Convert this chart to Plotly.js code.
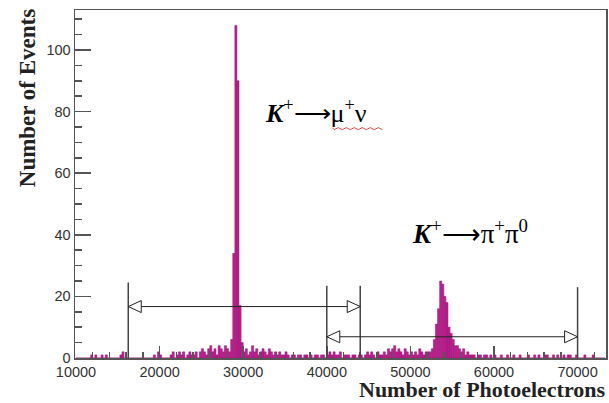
<!DOCTYPE html>
<html>
<head>
<meta charset="utf-8">
<script src="https://cdn.plot.ly/plotly-3.0.1.min.js"></script>
<style>html,body{margin:0;padding:0;background:#fff;}#chart{width:609px;height:403px;}</style>
</head>
<body>
<div id="chart"></div>
<script>
// Histogram definition (bins of 250 photoelectrons starting at 10000)
var binStart = 10000;
var binWidth = 250;
var counts = [
  0,0,0,0,0,0,0,1,0,1,
  0,0,1,0,1,0,0,0,0,0,
  0,1,2,0,0,0,0,0,0,0,
  0,0,0,0,0,0,0,1,0,2,
  1,0,0,0,0,1,2,0,1,2,
  1,2,0,1,2,1,1,2,0,2,
  3,2,1,3,4,2,3,1,4,3,
  2,4,3,2,6,34,108,90,17,5,
  2,3,1,2,4,2,3,1,2,3,
  2,1,3,2,1,2,1,2,1,1,
  2,1,0,1,1,0,1,1,0,1,
  1,0,1,0,1,1,0,1,1,0,
  1,2,1,2,1,1,2,0,1,1,
  1,0,1,1,0,1,1,0,1,2,
  1,2,1,0,2,1,1,2,1,3,
  2,3,4,2,3,2,1,3,2,1,
  2,1,2,1,3,2,1,2,2,2,
  3,6,11,16,25,24,20,18,10,8,
  6,4,4,3,2,3,1,2,1,1,
  1,0,1,1,0,1,1,0,1,0,
  1,0,0,1,0,0,1,0,0,1,
  0,0,1,0,0,0,1,0,0,1,
  0,1,0,0,1,1,0,0,1,0,
  1,0,0,1,0,1,1,0,0,1,
  0,0,0,1,0,0,0,1,0,0,
  0,0,0
];

// Selection windows (cut lines) and arrows
var cutX   = [16250, 40000, 44000, 70000];
var cutTop = [24.5, 23.5, 23.5, 23];
var muNuRange  = [16250, 44000];
var muNuArrowY = 16.7;
var piPiRange  = [40000, 70000];
var piPiArrowY = 6.9;

// Labels
var labelMuNu = {x: 32400, y: 80, text: '<b><i>K</i></b><sup>+</sup>\u27F6\u03BC<sup>+</sup>\u03BD'};
var labelPiPi = {x: 49900, y: 41, text: '<b><i>K</i></b><sup>+</sup>\u27F6\u03C0<sup>+</sup>\u03C0<sup>0</sup>'};

var xTitle = 'Number of Photoelectrons';
var yTitle = 'Number of Events';

var xCenters = counts.map(function(c, i){ return binStart + binWidth * (i + 0.5); });

var traces = [{
  type: 'bar',
  x: xCenters,
  y: counts,
  width: binWidth,
  marker: {color: '#c41f8f', line: {color: '#8a1272', width: 0.5}},
  hoverinfo: 'x+y'
}];

var shapes = [];
cutX.forEach(function(x, i){
  shapes.push({type:'line', xref:'x', yref:'y', x0:x, x1:x, y0:0, y1:cutTop[i],
    line:{color:'#444', width:1.5}});
});
function arrow(range, y){
  shapes.push({type:'line', xref:'x', yref:'y', x0:range[0], x1:range[1], y0:y, y1:y,
    line:{color:'#222', width:1}});
  shapes.push({type:'path', xref:'x', yref:'y', xsizemode:'pixel', ysizemode:'pixel',
    xanchor:range[0], yanchor:y, path:'M0,0 L13,6 L13,-6 Z',
    fillcolor:'#fff', line:{color:'#222', width:1}});
  shapes.push({type:'path', xref:'x', yref:'y', xsizemode:'pixel', ysizemode:'pixel',
    xanchor:range[1], yanchor:y, path:'M0,0 L-13,6 L-13,-6 Z',
    fillcolor:'#fff', line:{color:'#222', width:1}});
}
arrow(muNuRange, muNuArrowY);
arrow(piPiRange, piPiArrowY);

// red wavy spell-check underline under the mu-nu part of the first label
var wave = 'M69,-16';
for (var k = 0; k < 13; k++) { wave += ' L' + (71 + 4*k) + ',' + (k % 2 ? -16 : -18) ; }
shapes.push({type:'path', xref:'x', yref:'y', xsizemode:'pixel', ysizemode:'pixel',
  xanchor: labelMuNu.x, yanchor: labelMuNu.y, path: wave,
  line:{color:'#e04848', width:1}});

var serif = 'Liberation Serif, Times New Roman, serif';
var annotations = [
  {x: labelMuNu.x, y: labelMuNu.y, xref:'x', yref:'y', text: labelMuNu.text, showarrow:false,
   xanchor:'left', yanchor:'middle', font:{family: serif, size: 26, color:'#000'}},
  {x: labelPiPi.x, y: labelPiPi.y, xref:'x', yref:'y', text: labelPiPi.text, showarrow:false,
   xanchor:'left', yanchor:'middle', font:{family: serif, size: 27, color:'#000'}},
  {x: 1, y: -0.1293, xref:'paper', yref:'paper', text: '<b>' + xTitle + '</b>', showarrow:false,
   xanchor:'right', yanchor:'bottom', borderpad: 0, font:{family: serif, size: 22, color:'#222'}},
  {x: -0.09, y: 1.01, xref:'paper', yref:'paper', text: '<b>' + yTitle + '</b>', showarrow:false,
   textangle: -90, xanchor:'center', yanchor:'top', font:{family: serif, size: 23, color:'#222'}}
];

var tickFont = {family: 'Liberation Sans, Arial, sans-serif', size: 14.5, color: '#333'};
var layout = {
  width: 609, height: 403,
  margin: {l: 75, r: 3, t: 10, b: 45},
  paper_bgcolor: '#fff', plot_bgcolor: '#fff',
  showlegend: false,
  bargap: 0,
  xaxis: {
    range: [9880, 73400], tick0: 0, dtick: 10000, ticks: 'inside', ticklen: 12, tickwidth: 1.5,
    tickcolor: '#555', showgrid: false, zeroline: false, showline: true, linecolor: '#555',
    linewidth: 1.5, mirror: true, tickfont: tickFont, tickformat: 'd',
    minor: {dtick: 2000, ticks: 'inside', ticklen: 6, tickwidth: 1.5, tickcolor: '#555', showgrid: false}
  },
  yaxis: {
    range: [0, 113], tick0: 0, dtick: 20, ticks: 'inside', ticklen: 16, tickwidth: 1.5,
    tickcolor: '#555', showgrid: false, zeroline: false, showline: true, linecolor: '#555',
    linewidth: 1.5, mirror: true, tickfont: tickFont,
    minor: {dtick: 5, ticks: 'inside', ticklen: 7, tickwidth: 1.5, tickcolor: '#555', showgrid: false}
  },
  shapes: shapes,
  annotations: annotations
};

Plotly.newPlot('chart', traces, layout, {staticPlot: true, displayModeBar: false});
</script>
</body>
</html>
